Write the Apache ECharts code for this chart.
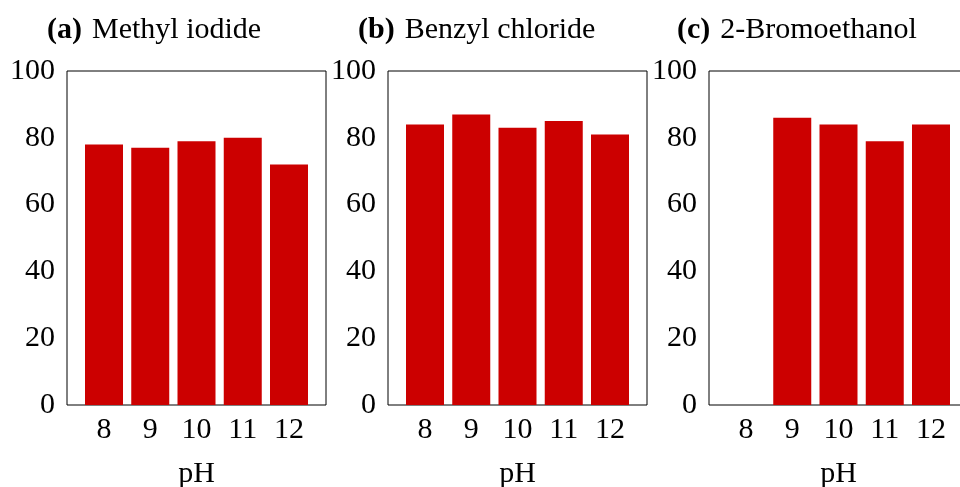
<!DOCTYPE html>
<html>
<head>
<meta charset="utf-8">
<script src="https://cdn.jsdelivr.net/npm/echarts@6/dist/echarts.min.js"></script>
<style>
html,body{margin:0;padding:0;background:#fff;}
#chart{width:960px;height:487px;}
</style>
</head>
<body>
<div id="chart"></div>
<script>
// Data
const pH = [8, 9, 10, 11, 12];
const methylIodide = [78, 77, 79, 80, 72];
const benzylChloride = [84, 87, 83, 85, 81];
const bromoethanol = [null, 86, 84, 79, 84];
const yTicks = [0, 20, 40, 60, 80, 100];
const panelLabels = ['(a)', '(b)', '(c)'];
const panelNames = ['Methyl iodide', 'Benzyl chloride', '2-Bromoethanol'];
const xName = 'pH';

const FONT = '"Liberation Serif", "Times New Roman", serif';
const RED = '#cc0000';
const series = [methylIodide, benzylChloride, bromoethanol];
const gridLefts = [67, 388, 709];
const gridWidth = 259;
const titleLefts = [42, 353, 672];

const chart = echarts.init(document.getElementById('chart'), null, {renderer: 'canvas'});

const grids = [], xAxes = [], yAxes = [], ser = [], titles = [];
for (let i = 0; i < 3; i++) {
  grids.push({
    left: gridLefts[i], width: gridWidth, top: 71, height: 334,
    show: true, borderColor: '#000', borderWidth: 1, backgroundColor: 'transparent',
    containLabel: false, outerBoundsMode: 'none'
  });
  xAxes.push({
    type: 'value', gridIndex: i, min: 7.2, max: 12.8,
    name: xName, nameLocation: 'middle', nameGap: 54,
    nameTextStyle: {fontFamily: FONT, fontSize: 30, color: '#000'},
    axisLine: {show: false}, axisTick: {show: false}, splitLine: {show: false},
    axisLabel: {customValues: pH, margin: 10, fontFamily: FONT, fontSize: 30, color: '#000'}
  });
  yAxes.push({
    type: 'value', gridIndex: i, min: 0, max: 100, interval: 20,
    axisLine: {show: false}, axisTick: {show: false}, splitLine: {show: false},
    axisLabel: {margin: 12, fontFamily: FONT, fontSize: 30, color: '#000'}
  });
  ser.push({
    type: 'bar', xAxisIndex: i, yAxisIndex: i, barWidth: 38,
    itemStyle: {color: RED},
    data: pH.map((p, k) => [p, series[i][k]]),
    silent: true, animation: false
  });
  titles.push({
    text: '{b|' + panelLabels[i] + '}  {n|' + panelNames[i] + '}',
    left: titleLefts[i], top: 10,
    textStyle: {
      fontWeight: 'normal',
      rich: {
        b: {fontFamily: FONT, fontSize: 30, fontWeight: 'bold', color: '#000'},
        n: {fontFamily: FONT, fontSize: 30, fontWeight: 'normal', color: '#000'}
      }
    }
  });
}

chart.setOption({
  animation: false,
  title: titles,
  grid: grids,
  xAxis: xAxes,
  yAxis: yAxes,
  series: ser
});
</script>
</body>
</html>
